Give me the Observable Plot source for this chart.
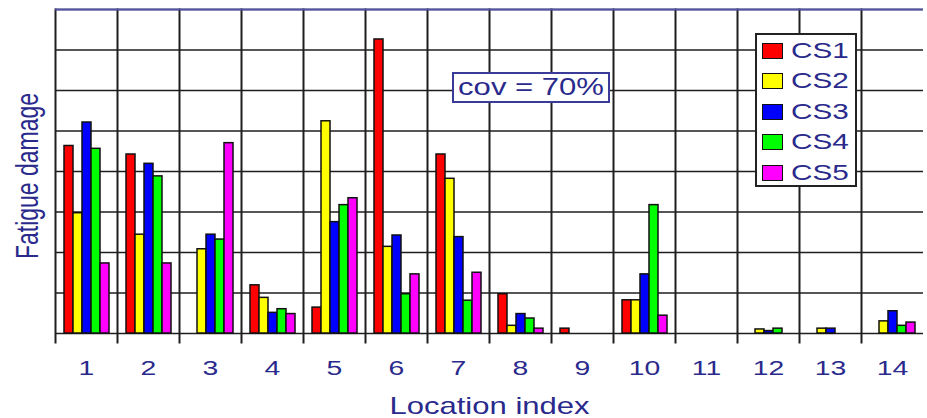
<!DOCTYPE html>
<html>
<head>
<meta charset="utf-8">
<script src="https://cdn.jsdelivr.net/npm/d3@7"></script>
<script src="https://cdn.jsdelivr.net/npm/@observablehq/plot@0.6"></script>
<style>
  html, body { margin: 0; padding: 0; background: #fff; }
  #chart { position: relative; width: 927px; height: 418px; overflow: hidden;
           font-family: "Liberation Sans", Arial, Helvetica, sans-serif; }
  #chart svg { position: absolute; left: 0; top: 0; }
  .cov { position: absolute; left: 452px; top: 72px; width: 158px; height: 31px; box-sizing: border-box;
         border: 2px solid #3a3a98; background: #fff; display: flex; align-items: center; justify-content: center;
         color: #2a2a8c; font-size: 23px; }
  .cov span { display: inline-block; transform: scaleX(1.35); transform-origin: center; white-space: nowrap; }
  .legend { position: absolute; left: 755px; top: 33px; width: 102px; height: 154px; box-sizing: border-box;
            border: 2px solid #222; background: #fff; }
  .legend .sw { position: absolute; left: 5px; width: 21px; height: 16px; box-sizing: border-box; border: 1.5px solid #111; }
  .legend .lb { position: absolute; left: 34px; height: 22px; line-height: 22px; font-size: 22px; color: #2a2a8c;
                transform: scaleX(1.35); transform-origin: left center; white-space: nowrap; }
</style>
</head>
<body>
<div id="chart"></div>
<script>
// ---- data ----
const locations = ["1","2","3","4","5","6","7","8","9","10","11","12","13","14"];
const series = ["CS1","CS2","CS3","CS4","CS5"];
const cs1 = [4.63, 4.42, 0,    1.19, 0.64, 7.26, 4.42, 0.97, 0.12, 0.82, 0, 0,    0,    0];
const cs2 = [2.97, 2.44, 2.08, 0.88, 5.24, 2.14, 3.82, 0.19, 0,    0.82, 0, 0.10, 0.12, 0.30];
const cs3 = [5.21, 4.19, 2.44, 0.51, 2.75, 2.42, 2.38, 0.48, 0,    1.46, 0, 0.06, 0.12, 0.55];
const cs4 = [4.56, 3.88, 2.32, 0.60, 3.17, 0.97, 0.81, 0.37, 0,    3.17, 0, 0.12, 0,    0.19];
const cs5 = [1.73, 1.73, 4.70, 0.48, 3.34, 1.46, 1.50, 0.12, 0,    0.44, 0, 0,    0,    0.27];
const seriesColors = ["#ff0000","#ffff00","#0000ff","#00ff00","#ff00ff"];
const gridLevels = [0,1,2,3,4,5,6,7,8];
const xTitle = "Location index";
const yTitle = "Fatigue damage";
const annotation = "cov = 70%";

const rows = [];
[cs1, cs2, cs3, cs4, cs5].forEach((vals, j) =>
  vals.forEach((v, i) => rows.push({location: locations[i], series: series[j], value: v})));

const navy = "#2a2a8c";
const slate = "#5252a6";

const svg = Plot.plot({
  width: 927, height: 418,
  marginTop: 9, marginRight: 0, marginBottom: 76, marginLeft: 51,
  style: {fontFamily: '"Liberation Sans", Arial, Helvetica, sans-serif', fontSize: "21px", color: navy, background: "white", overflow: "visible"},
  fx: {domain: locations, padding: 0, label: xTitle, labelAnchor: "center", labelArrow: false, tickSize: 0, tickPadding: 18, labelOffset: 71},
  x: {domain: series, paddingInner: 0, paddingOuter: 0.73, axis: null},
  y: {domain: [-0.222, d3.max(gridLevels)], axis: null},
  color: {domain: series, range: seriesColors},
  marks: [
    Plot.ruleY(gridLevels, {stroke: "#1e1e1e", strokeWidth: 1.7}),
    Plot.frame({anchor: "left", stroke: "#1e1e1e", strokeWidth: 2}),
    Plot.barY(rows, {fx: "location", x: "series", y: "value", fill: "series", stroke: "#111", strokeWidth: 1.5}),
    Plot.ruleY([d3.max(gridLevels)], {stroke: slate, strokeWidth: 2}),
    Plot.axisY({anchor: "left", ticks: [], tickSize: 0, label: yTitle, labelArrow: false, labelAnchor: "center", labelOffset: 40, line: true, stroke: slate, strokeWidth: 2, fill: navy})
  ]
});

const chart = document.getElementById("chart");
chart.appendChild(svg);

// axis titles: no arrows, slightly larger
svg.querySelectorAll('[aria-label$="axis label"] text').forEach(t => {
  t.setAttribute("font-size", "23px");
  t.textContent = t.textContent.replace(/[\u2190-\u2193]/g, "").trim();
});

// the reference is horizontally stretched: widen glyphs around their anchors
svg.querySelectorAll("text").forEach(t => {
  const tr = t.getAttribute("transform");
  if (tr) {
    t.setAttribute("transform", tr + (/rotate/.test(tr) ? " scale(1,1.35)" : " scale(1.35,1)"));
  } else {
    const x = +(t.getAttribute("x") || 0), y = +(t.getAttribute("y") || 0);
    t.setAttribute("transform", `translate(${x},${y}) scale(1.35,1) translate(${-x},${-y})`);
  }
});

// annotation box
const cov = document.createElement("div");
cov.className = "cov";
cov.innerHTML = `<span>${annotation}</span>`;
chart.appendChild(cov);

// legend
const legend = d3.select(chart).append("div").attr("class", "legend");
series.forEach((s, i) => {
  const cy = 16 + i * 30.4;
  legend.append("div").attr("class", "sw").style("top", (cy - 8) + "px").style("background", seriesColors[i]);
  legend.append("div").attr("class", "lb").style("top", (cy - 11) + "px").text(s);
});
</script>
</body>
</html>
